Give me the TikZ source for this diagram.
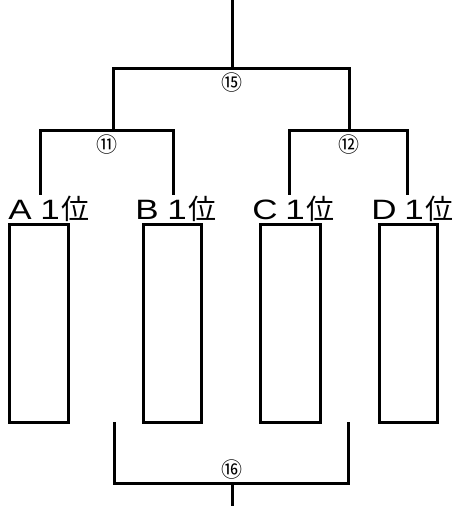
\documentclass[tikz,border=0pt]{standalone}
\usepackage{fontspec}
\setmainfont{Liberation Sans}
\newfontfamily\jp{Noto Sans CJK JP}
\newcommand{\cellch}[1]{\makebox[30pt]{\scalebox{1.25}[1]{\fontsize{28}{28}\selectfont #1}}}
\newcommand{\rankl}[1]{\cellch{#1}\cellch{1}\hspace{2pt}\makebox[17pt]{\jp\fontsize{28}{28}\selectfont 位}}
\begin{document}
\begin{tikzpicture}[x=1pt,y=-1pt,
  wire/.style={line width=3pt,line cap=rect},
  slot/.style={draw,line width=3pt,inner sep=0pt},
  team/.style={inner sep=0pt,anchor=base},
  num/.style={inner sep=0pt,font=\jp\fontsize{21}{21}\selectfont}]
\useasboundingbox (0,0) rectangle (453,506);
% team labels
\node[team] (tA) at (44.5,219) {\rankl{A}};
\node[team] (tB) at (171.5,219) {\rankl{B}};
\node[team] (tC) at (289.5,219) {\rankl{C}};
\node[team] (tD) at (408.5,219) {\rankl{D}};
% boxes
\node[slot,minimum width=59pt,minimum height=198pt] (bA) at (38.5,323) {};
\node[slot,minimum width=58pt,minimum height=198pt] (bB) at (172,323) {};
\node[slot,minimum width=60pt,minimum height=198pt] (bC) at (290,323) {};
\node[slot,minimum width=58pt,minimum height=198pt] (bD) at (408,323) {};
% coordinates
\coordinate (top) at (232,0);
\coordinate (h15) at (232,68);
\coordinate (h11) at (113,130);
\coordinate (h12) at (349,130);
\coordinate (aT) at (40,193);
\coordinate (bT) at (173,193);
\coordinate (cT) at (289,193);
\coordinate (dT) at (407,193);
\coordinate (l16) at (114,423);
\coordinate (r16) at (348,423);
\coordinate (h16) at (232,483);
\coordinate (bot) at (232,506);
% brackets
\draw[wire] (top) -- (h15);
\draw[wire] (h11) -- (h11 |- h15) -- (h12 |- h15) -- (h12);
\draw[wire] (aT) -- (aT |- h11) -- (bT |- h11) -- (bT);
\draw[wire] (cT) -- (cT |- h12) -- (dT |- h12) -- (dT);
\draw[wire] (l16) -- (l16 |- h16) -- (r16 |- h16) -- (r16);
\draw[wire] (h16) -- (bot);
% match numbers
\node[num] (n15) at (232,83) {⑮};
\node[num] (n11) at (107,145) {⑪};
\node[num] (n12) at (349,145) {⑫};
\node[num] (n16) at (232,470) {⑯};
\end{tikzpicture}
\end{document}
